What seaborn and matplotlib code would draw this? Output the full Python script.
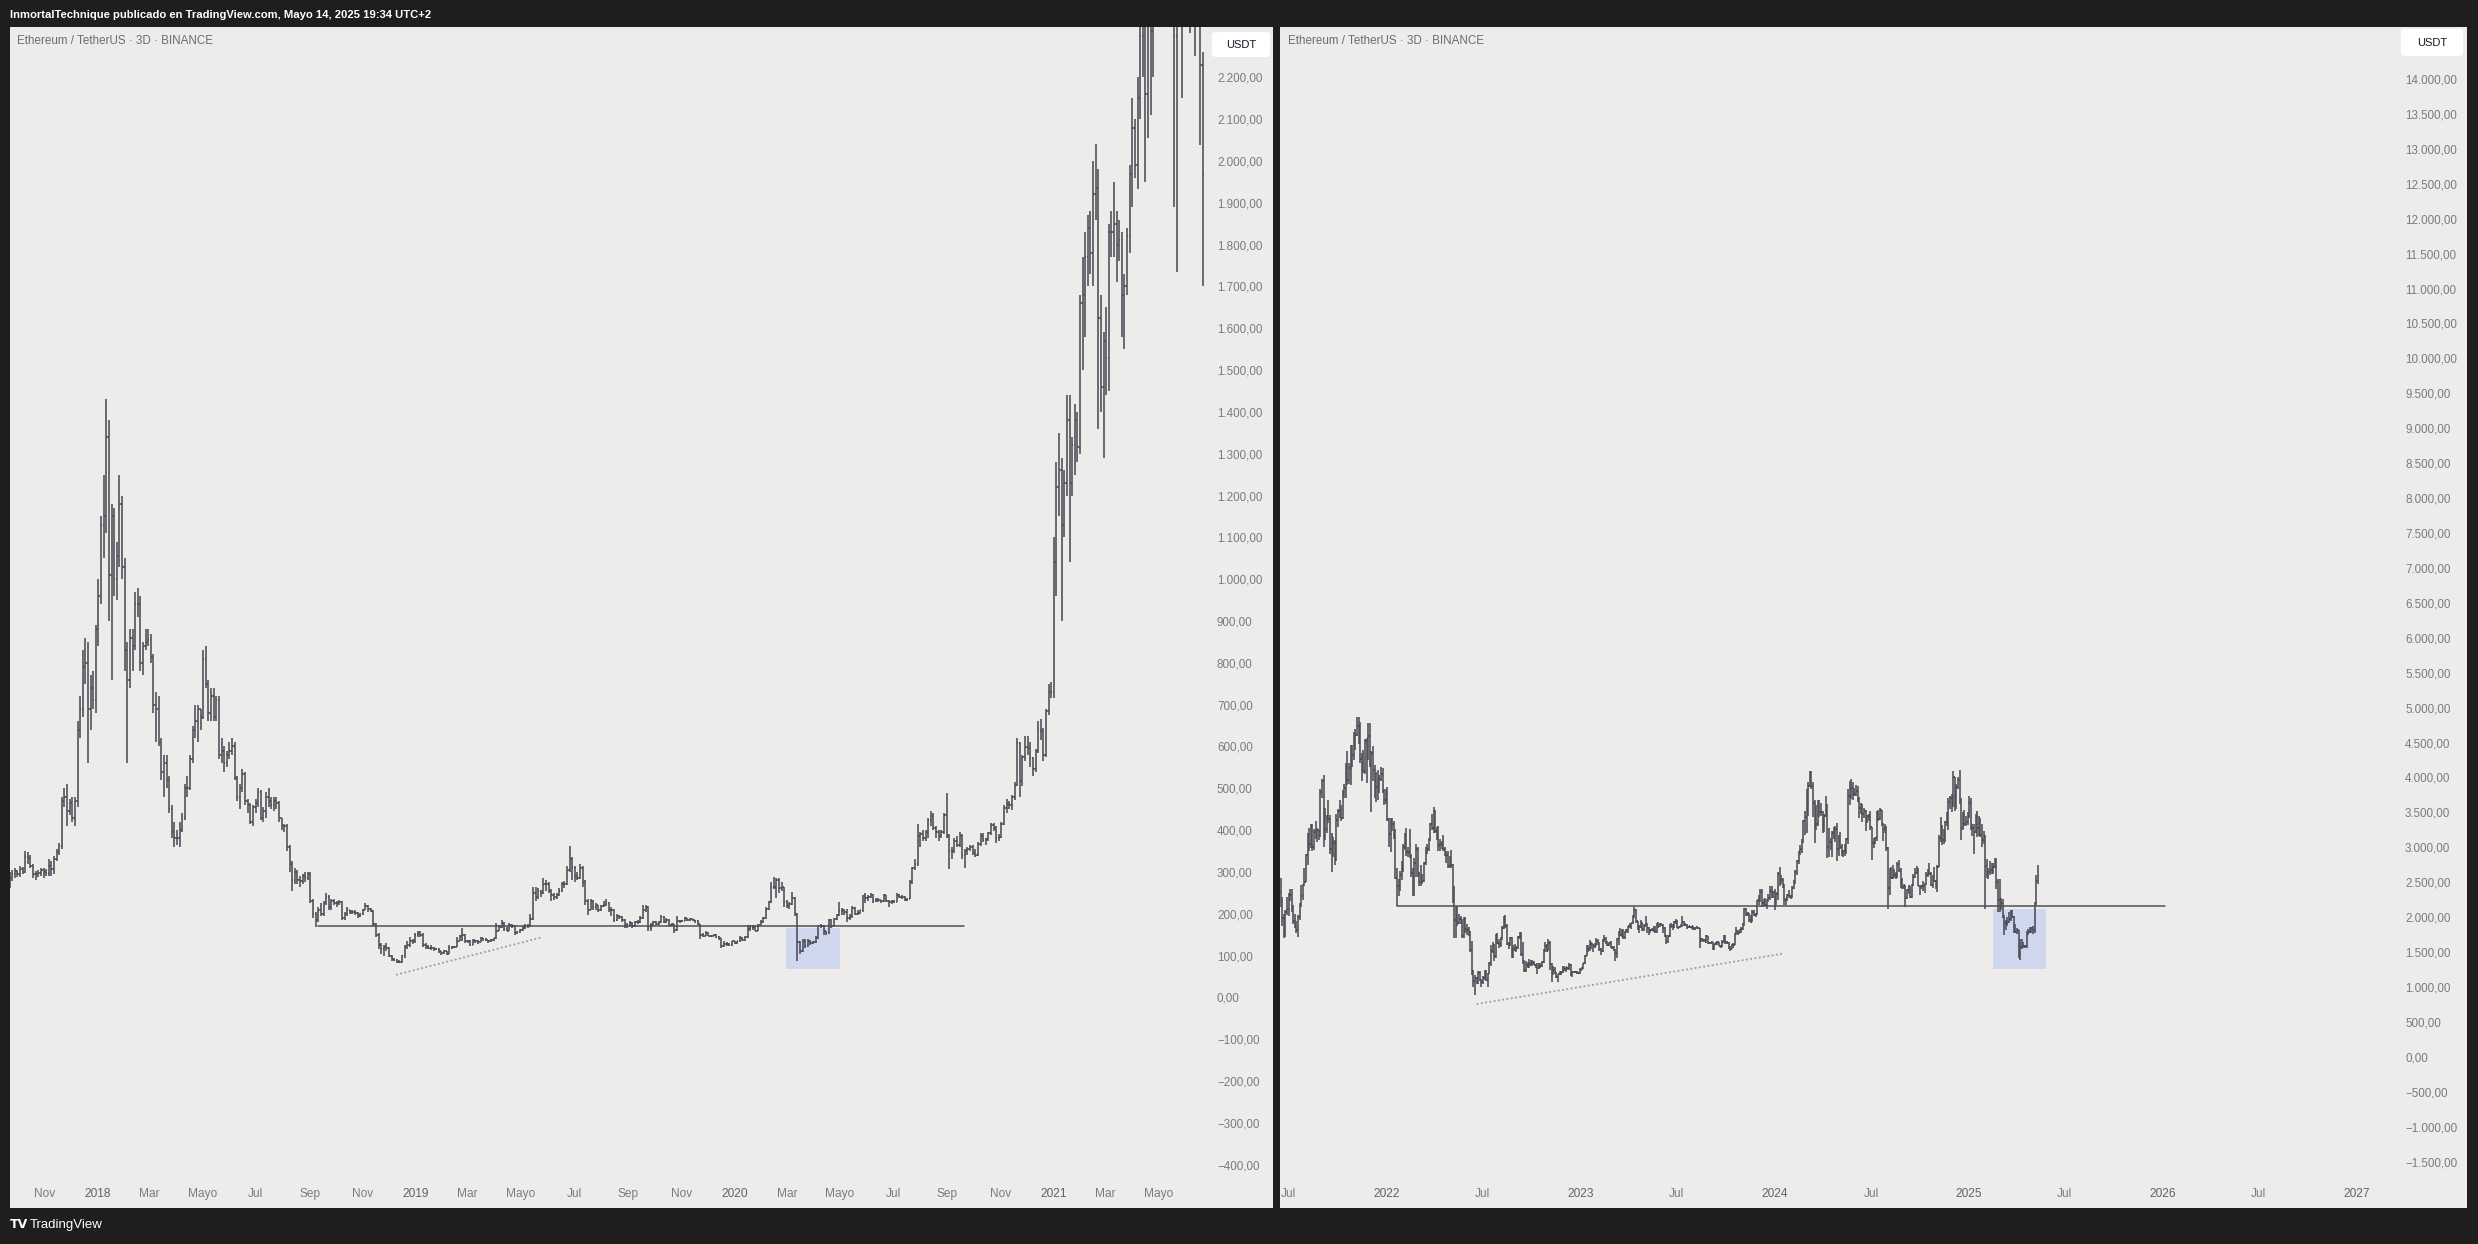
import numpy as np
import pandas as pd
import seaborn as sns
import matplotlib
matplotlib.use("Agg")
import matplotlib.pyplot as plt
import matplotlib.dates as mdates
from matplotlib.patches import Rectangle, FancyBboxPatch

# ETH/USDT 3D bars, left pane (Sep 2017 - Jun 2021)
left_start = "2017-09-22"
left_open0 = 280
left_close = [
    285, 296, 302, 295, 308, 299, 336, 334, 314, 296,
    296, 297, 305, 300, 298, 315, 306, 330, 348, 362,
    470, 480, 445, 465, 430, 470, 640, 690, 790, 800,
    690, 740, 710, 880, 960, 1130, 1150, 1340, 1010, 1150,
    1000, 1055, 1180, 1030, 830, 760, 860, 840, 940, 940,
    800, 840, 850, 855, 815, 700, 690, 610, 540, 560,
    520, 450, 395, 380, 380, 400, 430, 500, 500, 570,
    640, 660, 690, 670, 810, 750, 680, 720, 670, 710,
    580, 590, 560, 580, 590, 600, 525, 480, 500, 535,
    470, 460, 420, 455, 465, 490, 430, 445, 480, 470,
    460, 470, 465, 430, 410, 410, 360, 320, 280, 300,
    280, 278, 290, 285, 295, 230, 200, 185, 210, 200,
    225, 240, 215, 230, 225, 225, 228, 190, 200, 208,
    205, 205, 203, 195, 200, 210, 218, 212, 206, 175,
    150, 125, 115, 120, 118, 100, 92, 90, 85, 85,
    100, 120, 125, 135, 135, 150, 155, 150, 125, 120,
    118, 118, 116, 116, 110, 107, 110, 105, 118, 120,
    120, 135, 148, 150, 135, 135, 126, 137, 136, 133,
    142, 140, 137, 134, 138, 141, 160, 168, 178, 163,
    160, 173, 171, 155, 156, 161, 165, 170, 170, 188,
    250, 240, 255, 250, 270, 270, 255, 245, 240, 245,
    255, 270, 270, 305, 330, 310, 290, 285, 310, 275,
    230, 210, 230, 215, 220, 210, 218, 222, 225, 210,
    210, 185, 195, 192, 185, 170, 172, 178, 170, 180,
    180, 190, 210, 215, 165, 174, 180, 175, 180, 192,
    180, 186, 174, 176, 162, 183, 183, 183, 189, 185,
    187, 185, 183, 175, 150, 148, 155, 148, 148, 150,
    145, 141, 122, 128, 127, 125, 134, 130, 134, 143,
    137, 144, 164, 166, 169, 160, 174, 180, 189, 212,
    228, 265, 265, 280, 262, 265, 227, 218, 224, 237,
    200, 133, 110, 135, 122, 136, 131, 133, 141, 170,
    170, 158, 153, 186, 171, 187, 196, 206, 208, 205,
    190, 195, 214, 200, 202, 208, 243, 237, 241, 245,
    230, 233, 232, 230, 244, 231, 228, 230, 228, 246,
    241, 240, 233, 236, 275, 310, 318, 385, 390, 380,
    395, 425, 433, 405, 395, 385, 395, 435, 385, 350,
    350, 375, 365, 385, 340, 350, 355, 360, 346, 340,
    366, 387, 377, 378, 392, 413, 404, 382, 384, 415,
    452, 463, 460, 480, 509, 608, 518, 575, 598, 597,
    573, 545, 590, 640, 638, 580, 685, 730, 730, 1040,
    1220, 1260, 1130, 1230, 1380, 1230, 1320, 1380, 1315, 1660,
    1680, 1770, 1840, 1780, 1920, 1935, 1625, 1460, 1570, 1530,
    1830, 1830, 1850, 1800, 1810, 1680, 1700, 1820, 1970, 2080,
    1990, 2150, 2300, 2430, 2160, 2360, 2310, 2750, 2950, 3240,
    3490, 3900, 3720, 3580, 3380, 2300, 2650, 2740, 2630, 2860,
    2710, 2610, 2450, 2580, 2370, 2230, 1970,
]
left_high = [
    300, 305, 310, 305, 315, 312, 350, 348, 340, 318,
    302, 304, 310, 310, 308, 330, 325, 338, 355, 370,
    480, 500, 510, 475, 480, 480, 660, 720, 830, 860,
    850, 770, 780, 890, 1000, 1150, 1250, 1430, 1380, 1180,
    1170, 1090, 1250, 1200, 1050, 850, 880, 880, 970, 980,
    960, 850, 880, 880, 870, 820, 730, 720, 620, 580,
    580, 530, 460, 420, 400, 420, 440, 510, 530, 580,
    650, 700, 700, 690, 830, 840, 760, 740, 740, 720,
    720, 620, 600, 590, 610, 620, 610, 530, 510, 545,
    540, 475, 465, 460, 475, 500, 495, 455, 490, 500,
    480, 480, 480, 470, 430, 415, 415, 365, 325, 310,
    305, 290, 295, 300, 300, 300, 235, 205, 215, 225,
    230, 250, 245, 235, 235, 230, 232, 230, 205, 215,
    210, 210, 208, 205, 202, 212, 225, 222, 214, 208,
    178, 155, 130, 125, 130, 120, 102, 95, 92, 90,
    102, 125, 135, 145, 140, 155, 160, 160, 155, 130,
    125, 125, 120, 119, 117, 112, 113, 112, 125, 124,
    124, 145, 150, 165, 152, 138, 137, 140, 138, 137,
    145, 143, 141, 138, 140, 143, 178, 172, 185, 180,
    168, 178, 176, 172, 160, 163, 170, 175, 175, 200,
    265, 265, 262, 258, 285, 280, 275, 260, 250, 250,
    262, 275, 278, 315, 362, 335, 315, 300, 318, 315,
    280, 235, 235, 232, 225, 222, 222, 230, 235, 228,
    215, 212, 200, 198, 195, 188, 178, 182, 180, 183,
    184, 195, 222, 220, 218, 177, 182, 182, 183, 198,
    194, 190, 187, 178, 176, 195, 186, 186, 192, 190,
    190, 188, 186, 184, 176, 155, 158, 156, 150, 152,
    151, 146, 142, 134, 133, 129, 136, 135, 136, 146,
    145, 148, 172, 174, 172, 170, 176, 185, 192, 215,
    230, 275, 288, 285, 285, 275, 265, 232, 228, 252,
    240, 202, 135, 140, 140, 140, 138, 136, 148, 174,
    176, 172, 160, 188, 188, 190, 200, 227, 214, 212,
    212, 200, 218, 216, 208, 210, 245, 250, 245, 250,
    248, 237, 238, 234, 248, 245, 232, 233, 232, 250,
    248, 244, 242, 238, 280, 312, 332, 415, 395, 400,
    400, 430, 445, 440, 410, 400, 400, 440, 488, 390,
    360, 380, 385, 395, 390, 355, 360, 365, 365, 355,
    372, 392, 392, 382, 395, 418, 416, 410, 390, 420,
    460, 475, 470, 485, 515, 620, 610, 580, 625, 625,
    610, 575, 595, 660, 665, 645, 690, 750, 755, 1100,
    1280, 1350, 1290, 1260, 1440, 1440, 1340, 1420, 1400, 1680,
    1770, 1830, 1870, 1880, 2000, 2040, 1980, 1680, 1590, 1650,
    1850, 1880, 1950, 1880, 1860, 1830, 1730, 1840, 1990, 2150,
    2100, 2200, 2320, 2550, 2450, 2430, 2500, 2780, 2980, 3300,
    3600, 4200, 4380, 4150, 3620, 3440, 2700, 2900, 2760, 2900,
    2890, 2760, 2650, 2600, 2650, 2420, 2260,
]
left_low = [
    262, 278, 285, 288, 288, 295, 298, 320, 310, 285,
    280, 288, 290, 285, 290, 290, 290, 295, 325, 340,
    355, 455, 410, 435, 420, 410, 455, 620, 670, 750,
    560, 640, 690, 680, 840, 940, 1050, 1110, 900, 760,
    960, 950, 1030, 1000, 780, 560, 740, 780, 830, 910,
    780, 770, 830, 840, 800, 680, 610, 600, 520, 480,
    500, 440, 380, 360, 365, 360, 395, 425, 480, 495,
    560, 620, 610, 640, 665, 740, 660, 660, 660, 660,
    570, 560, 540, 550, 570, 580, 520, 470, 450, 490,
    460, 440, 415, 410, 440, 455, 425, 420, 430, 455,
    450, 445, 450, 420, 400, 395, 350, 300, 255, 270,
    270, 265, 270, 275, 280, 225, 190, 168, 180, 195,
    195, 220, 210, 210, 220, 215, 220, 185, 185, 195,
    200, 200, 198, 190, 193, 198, 208, 205, 204, 170,
    145, 115, 105, 100, 110, 97, 88, 86, 83, 82,
    83, 95, 115, 120, 128, 130, 145, 145, 120, 115,
    115, 114, 112, 113, 106, 102, 105, 102, 104, 116,
    118, 120, 135, 135, 130, 130, 122, 125, 131, 128,
    132, 136, 134, 130, 132, 136, 140, 158, 165, 160,
    158, 160, 166, 150, 152, 153, 158, 164, 165, 168,
    185, 230, 235, 240, 248, 255, 250, 230, 232, 235,
    243, 252, 262, 268, 300, 280, 275, 280, 283, 265,
    220, 198, 208, 210, 210, 205, 206, 215, 218, 205,
    195, 180, 183, 188, 180, 166, 167, 170, 166, 168,
    176, 178, 188, 205, 160, 158, 170, 172, 172, 178,
    178, 178, 170, 170, 155, 160, 178, 180, 182, 182,
    183, 182, 178, 172, 140, 145, 146, 146, 145, 146,
    143, 138, 117, 120, 124, 123, 124, 128, 128, 133,
    134, 136, 143, 160, 162, 158, 159, 172, 178, 188,
    210, 226, 260, 238, 250, 255, 215, 213, 212, 222,
    195, 86, 105, 108, 118, 120, 126, 128, 131, 140,
    165, 150, 150, 152, 166, 170, 185, 195, 198, 198,
    180, 185, 190, 198, 198, 199, 205, 225, 230, 238,
    225, 228, 228, 226, 228, 228, 216, 224, 225, 227,
    238, 236, 230, 231, 235, 272, 305, 315, 360, 375,
    375, 380, 410, 400, 380, 375, 380, 390, 380, 308,
    330, 345, 360, 360, 330, 310, 340, 350, 340, 335,
    338, 362, 372, 365, 375, 388, 398, 370, 373, 380,
    412, 440, 450, 448, 472, 505, 480, 505, 565, 580,
    550, 530, 540, 585, 615, 565, 575, 675, 715, 715,
    960, 1150, 900, 1100, 1200, 1040, 1200, 1250, 1280, 1300,
    1500, 1580, 1700, 1730, 1700, 1860, 1360, 1400, 1290, 1440,
    1450, 1770, 1770, 1710, 1760, 1580, 1550, 1680, 1780, 1890,
    1960, 1932, 2100, 2200, 1950, 2055, 2110, 2200, 2650, 2850,
    3150, 3450, 3600, 3500, 3100, 1890, 1735, 2380, 2150, 2530,
    2550, 2306, 2400, 2250, 2330, 2038, 1700,
]

# ETH/USDT 3D bars, right pane (Jun 2021 - May 2025)
right_start = "2021-06-16"
right_open0 = 2360
right_close = [
    2230, 1990, 1830, 2080, 2110, 2320, 2320, 2140, 1940, 1880,
    1820, 2000, 2190, 2300, 2460, 2510, 2890, 3160, 3040, 3310,
    3010, 3220, 3170, 3250, 3230, 3790, 3950, 3490, 3260, 3430,
    3400, 2970, 3150, 3060, 2850, 3390, 3520, 3560, 3420, 3790,
    3850, 4170, 3970, 4140, 4420, 4320, 4530, 4610, 4730, 4650,
    4270, 4300, 4090, 4520, 4290, 4590, 4200, 4350, 4100, 4050,
    3860, 3920, 3980, 4050, 3800, 3680, 3770, 3410, 3190, 3370,
    3330, 3160, 2560, 2440, 2420, 2600, 2690, 3010, 3120, 2930,
    2930, 2880, 2630, 2590, 2770, 2970, 2620, 2500, 2610, 2520,
    2770, 2950, 2970, 3110, 3330, 3280, 3520, 3230, 3260, 3030,
    3040, 3060, 2980, 2920, 2890, 2730, 2860, 2750, 2240, 1960,
    2140, 1910, 1980, 1970, 1730, 1990, 1830, 1810, 1790, 1530,
    1210, 1090, 1130, 1060, 1200, 1100, 1070, 1130, 1230, 1100,
    1190, 1340, 1520, 1550, 1440, 1740, 1630, 1610, 1700, 1850,
    1980, 1880, 1610, 1620, 1700, 1430, 1550, 1550, 1560, 1720,
    1710, 1470, 1340, 1250, 1310, 1340, 1330, 1360, 1350, 1320,
    1290, 1270, 1310, 1300, 1360, 1510, 1590, 1520, 1630, 1330,
    1290, 1250, 1210, 1140, 1180, 1200, 1220, 1240, 1260, 1280,
    1270, 1310, 1190, 1220, 1220, 1220, 1200, 1200, 1250, 1270,
    1340, 1450, 1580, 1550, 1630, 1610, 1580, 1590, 1660, 1620,
    1550, 1510, 1670, 1690, 1640, 1600, 1630, 1570, 1560, 1530,
    1480, 1680, 1790, 1740, 1800, 1720, 1790, 1820, 1870, 1860,
    1910, 2010, 2100, 1940, 1870, 1860, 1910, 1830, 1880, 1900,
    1840, 1800, 1820, 1810, 1850, 1800, 1910, 1870, 1900, 1880,
    1840, 1740, 1660, 1730, 1890, 1880, 1860, 1930, 1950, 1850,
    1860, 1870, 1930, 1900, 1890, 1860, 1870, 1860, 1870, 1830,
    1850, 1850, 1840, 1680, 1680, 1670, 1650, 1730, 1630, 1630,
    1640, 1550, 1610, 1630, 1640, 1590, 1580, 1650, 1730, 1650,
    1630, 1570, 1550, 1600, 1600, 1760, 1790, 1780, 1820, 1830,
    1900, 2120, 2050, 2060, 1960, 1930, 2080, 2030, 2050, 2240,
    2230, 2360, 2200, 2220, 2170, 2240, 2270, 2380, 2290, 2360,
    2240, 2330, 2620, 2480, 2530, 2470, 2240, 2270, 2320, 2300,
    2290, 2420, 2500, 2640, 2800, 2940, 2970, 3110, 3380, 3430,
    3550, 3880, 4060, 3880, 3640, 3510, 3330, 3590, 3510, 3510,
    3310, 3450, 3500, 3010, 3080, 3060, 3200, 3150, 3260, 2970,
    3110, 3010, 2910, 2940, 2940, 3120, 3740, 3730, 3850, 3760,
    3760, 3810, 3700, 3560, 3620, 3480, 3520, 3360, 3450, 3440,
    3290, 3060, 3060, 3130, 3490, 3400, 3530, 3340, 3260, 3280,
    2990, 2420, 2680, 2560, 2660, 2610, 2570, 2760, 2680, 2530,
    2430, 2450, 2270, 2390, 2440, 2290, 2460, 2580, 2630, 2680,
    2450, 2420, 2440, 2440, 2470, 2610, 2650, 2620, 2460, 2570,
    2520, 2460, 2720, 3130, 3250, 3100, 3210, 3360, 3360, 3650,
    3700, 3620, 4000, 3720, 3870, 3960, 3630, 3280, 3490, 3330,
    3360, 3450, 3640, 3330, 3270, 3220, 3470, 3280, 3330, 3180,
    3110, 3160, 2730, 2620, 2650, 2680, 2660, 2720, 2770, 2500,
    2240, 2150, 2200, 2010, 1920, 1910, 1930, 1970, 2080, 2000,
    1800, 1790, 1820, 1470, 1570, 1620, 1580, 1590, 1790, 1790,
    1800, 1840, 1810, 2200, 2520, 2610,
]
right_high = [
    2560, 2290, 2040, 2100, 2290, 2340, 2410, 2400, 2180, 2040,
    1940, 2030, 2200, 2460, 2480, 2700, 2900, 3200, 3270, 3330,
    3330, 3260, 3380, 3280, 3250, 3840, 3980, 4030, 3560, 3460,
    3680, 3460, 3200, 3150, 3100, 3470, 3550, 3670, 3600, 3820,
    3900, 4200, 4380, 4200, 4460, 4460, 4650, 4700, 4868, 4860,
    4800, 4350, 4400, 4550, 4560, 4780, 4780, 4380, 4450, 4180,
    4080, 4100, 4030, 4150, 4130, 3830, 3830, 3870, 3420, 3420,
    3420, 3370, 3260, 2700, 2540, 2660, 2800, 3050, 3200, 3280,
    3000, 3260, 2900, 2700, 2850, 3040, 3000, 2640, 2750, 2620,
    2790, 3000, 3050, 3140, 3350, 3480, 3580, 3540, 3290, 3300,
    3120, 3090, 3180, 3000, 2950, 2950, 2880, 2960, 2760, 2450,
    2150, 2150, 2050, 2020, 1980, 2000, 2000, 1900, 1860, 1800,
    1660, 1250, 1170, 1150, 1230, 1230, 1110, 1160, 1240, 1240,
    1200, 1360, 1600, 1650, 1620, 1760, 1780, 1690, 1720, 1880,
    2010, 2030, 1900, 1650, 1720, 1710, 1600, 1620, 1590, 1730,
    1790, 1790, 1650, 1380, 1370, 1360, 1400, 1380, 1380, 1370,
    1330, 1340, 1340, 1340, 1370, 1550, 1640, 1620, 1680, 1660,
    1340, 1300, 1280, 1220, 1190, 1230, 1230, 1300, 1300, 1290,
    1290, 1350, 1330, 1230, 1230, 1230, 1230, 1210, 1270, 1280,
    1350, 1460, 1600, 1600, 1670, 1650, 1620, 1630, 1700, 1680,
    1650, 1560, 1690, 1740, 1720, 1660, 1650, 1660, 1590, 1580,
    1540, 1700, 1800, 1840, 1830, 1830, 1800, 1830, 1880, 1910,
    1920, 2030, 2140, 2120, 1950, 1890, 1960, 1930, 1900, 2010,
    1920, 1860, 1830, 1840, 1870, 1870, 1920, 1930, 1910, 1900,
    1900, 1860, 1750, 1740, 1900, 1920, 1900, 1950, 1970, 1960,
    1880, 1900, 2020, 1940, 1910, 1900, 1880, 1880, 1880, 1880,
    1860, 1870, 1850, 1850, 1700, 1690, 1680, 1740, 1730, 1650,
    1650, 1650, 1620, 1650, 1660, 1650, 1600, 1670, 1750, 1750,
    1660, 1640, 1580, 1620, 1630, 1770, 1860, 1820, 1830, 1860,
    1920, 2130, 2130, 2080, 2060, 2030, 2100, 2100, 2060, 2250,
    2310, 2400, 2400, 2260, 2280, 2260, 2330, 2440, 2440, 2380,
    2400, 2360, 2640, 2720, 2600, 2560, 2480, 2280, 2330, 2390,
    2320, 2440, 2530, 2680, 2820, 2950, 3030, 3120, 3390, 3520,
    3830, 3940, 4090, 4093, 3940, 3680, 3600, 3680, 3680, 3640,
    3520, 3480, 3730, 3620, 3280, 3130, 3230, 3290, 3300, 3350,
    3170, 3220, 3050, 2960, 3050, 3140, 3840, 3950, 3980, 3930,
    3850, 3890, 3880, 3720, 3640, 3620, 3560, 3530, 3460, 3470,
    3520, 3290, 3130, 3150, 3520, 3530, 3560, 3540, 3350, 3330,
    3300, 3000, 2700, 2720, 2740, 2690, 2640, 2790, 2820, 2700,
    2560, 2480, 2460, 2400, 2460, 2450, 2470, 2620, 2700, 2730,
    2700, 2450, 2460, 2520, 2490, 2640, 2690, 2770, 2650, 2600,
    2720, 2530, 2750, 3180, 3440, 3320, 3260, 3380, 3500, 3700,
    3730, 3760, 4090, 4010, 3900, 4000, 4107, 3700, 3500, 3530,
    3450, 3500, 3740, 3700, 3330, 3330, 3480, 3520, 3450, 3420,
    3330, 3230, 3170, 2830, 2700, 2800, 2770, 2780, 2850, 2840,
    2550, 2550, 2280, 2260, 2030, 1960, 2000, 2070, 2100, 2100,
    2020, 1900, 1850, 1820, 1690, 1690, 1640, 1600, 1800, 1830,
    1860, 1860, 1870, 2210, 2600, 2740,
]
right_low = [
    2150, 1880, 1700, 1720, 2030, 2010, 2230, 2080, 1900, 1850,
    1780, 1720, 1960, 2150, 2250, 2450, 2500, 2750, 2950, 2990,
    2950, 2960, 3120, 3080, 3110, 3150, 3700, 3000, 3100, 3200,
    3350, 2900, 2650, 2860, 2740, 2800, 3290, 3420, 3370, 3400,
    3700, 3700, 3890, 3900, 3890, 4150, 4250, 4400, 4600, 4480,
    4200, 3950, 4060, 4050, 3920, 4250, 4150, 3500, 3950, 3700,
    3650, 3680, 3780, 3950, 3780, 3600, 3620, 3380, 3000, 2930,
    3240, 3120, 2540, 2160, 2300, 2380, 2530, 2650, 2960, 2880,
    2860, 2850, 2570, 2300, 2300, 2570, 2580, 2450, 2450, 2480,
    2500, 2750, 2900, 2950, 3090, 3250, 3200, 3200, 3100, 2950,
    2950, 2980, 2950, 2880, 2770, 2700, 2700, 2700, 2200, 1700,
    1700, 1880, 1900, 1900, 1700, 1700, 1780, 1740, 1730, 1500,
    1175, 1000, 880, 1040, 1040, 1080, 1000, 1040, 1100, 1080,
    1000, 1180, 1300, 1480, 1370, 1420, 1610, 1560, 1570, 1670,
    1830, 1850, 1600, 1550, 1580, 1420, 1420, 1520, 1500, 1540,
    1680, 1450, 1330, 1220, 1220, 1270, 1270, 1300, 1300, 1310,
    1270, 1190, 1260, 1270, 1290, 1340, 1500, 1500, 1510, 1250,
    1070, 1170, 1190, 1130, 1075, 1170, 1170, 1200, 1230, 1220,
    1250, 1250, 1160, 1150, 1210, 1200, 1190, 1190, 1190, 1240,
    1260, 1330, 1440, 1500, 1510, 1550, 1500, 1560, 1580, 1600,
    1520, 1460, 1500, 1640, 1620, 1580, 1580, 1560, 1550, 1520,
    1370, 1420, 1600, 1730, 1710, 1690, 1690, 1770, 1780, 1840,
    1830, 1900, 1990, 1910, 1820, 1780, 1850, 1800, 1800, 1880,
    1780, 1740, 1780, 1800, 1790, 1780, 1780, 1850, 1860, 1870,
    1780, 1720, 1620, 1630, 1710, 1850, 1820, 1840, 1900, 1840,
    1840, 1860, 1860, 1880, 1880, 1830, 1840, 1850, 1830, 1820,
    1820, 1840, 1830, 1560, 1650, 1650, 1640, 1630, 1610, 1620,
    1610, 1530, 1530, 1600, 1600, 1580, 1560, 1570, 1640, 1620,
    1610, 1550, 1520, 1540, 1560, 1600, 1740, 1750, 1770, 1780,
    1820, 1880, 2010, 2020, 1930, 1920, 1930, 2020, 2000, 2030,
    2180, 2210, 2150, 2160, 2160, 2120, 2220, 2240, 2280, 2270,
    2100, 2170, 2250, 2440, 2470, 2420, 2180, 2170, 2230, 2270,
    2260, 2270, 2400, 2480, 2600, 2760, 2890, 2920, 3060, 3180,
    3200, 3450, 3860, 3830, 3440, 3060, 3250, 3300, 3430, 3450,
    3210, 3220, 3440, 2850, 2860, 2960, 2860, 3120, 3070, 2810,
    2880, 2980, 2870, 2860, 2880, 2900, 3050, 3600, 3690, 3680,
    3740, 3740, 3650, 3420, 3470, 3360, 3420, 3240, 3350, 3380,
    3250, 2820, 2990, 3050, 3090, 3370, 3390, 3300, 3090, 3200,
    2950, 2110, 2310, 2550, 2550, 2560, 2540, 2560, 2650, 2420,
    2400, 2400, 2150, 2260, 2330, 2270, 2270, 2440, 2560, 2620,
    2440, 2310, 2410, 2380, 2350, 2460, 2580, 2600, 2440, 2420,
    2500, 2400, 2360, 2720, 3080, 3030, 3040, 3080, 3300, 3250,
    3550, 3500, 3580, 3520, 3550, 3840, 3620, 3100, 3250, 3310,
    3300, 3320, 3420, 3250, 3160, 2900, 3200, 3150, 3160, 3150,
    3000, 3050, 2120, 2560, 2550, 2600, 2620, 2620, 2700, 2400,
    2080, 2080, 2100, 1990, 1750, 1820, 1880, 1920, 1950, 1990,
    1780, 1770, 1760, 1410, 1385, 1540, 1560, 1560, 1560, 1740,
    1780, 1770, 1760, 1780, 2170, 2470,
]

# drawings (dates, prices)
left_level = (["2018-09-11", "2020-09-20"], [170, 170])
left_trend = (["2018-12-09", "2019-05-24"], [54, 143])
left_zone = (["2020-02-29", "2020-05-01"], [68, 167])
right_level = (["2022-01-22", "2026-01-06"], [2160, 2160])
right_trend = (["2022-06-20", "2024-01-16"], [756, 1476])
right_zone = (["2025-02-16", "2025-05-27"], [1261, 2116])

# axis ticks
left_ticks = ["2017-11-01", "2018-01-01", "2018-03-01", "2018-05-01", "2018-07-01",
              "2018-09-01", "2018-11-01", "2019-01-01", "2019-03-01", "2019-05-01",
              "2019-07-01", "2019-09-01", "2019-11-01", "2020-01-01", "2020-03-01",
              "2020-05-01", "2020-07-01", "2020-09-01", "2020-11-01", "2021-01-01",
              "2021-03-01", "2021-05-01"]
left_tick_labels = ["Nov", "2018", "Mar", "Mayo", "Jul", "Sep", "Nov", "2019", "Mar", "Mayo",
                    "Jul", "Sep", "Nov", "2020", "Mar", "Mayo", "Jul", "Sep", "Nov", "2021",
                    "Mar", "Mayo"]
right_ticks = ["2021-07-01", "2022-01-01", "2022-07-01", "2023-01-01", "2023-07-01",
               "2024-01-01", "2024-07-01", "2025-01-01", "2025-07-01", "2026-01-01",
               "2026-07-01", "2027-01-01"]
right_tick_labels = ["Jul", "2022", "Jul", "2023", "Jul", "2024", "Jul", "2025", "Jul", "2026",
                     "Jul", "2027"]
left_price_ticks = list(range(-400, 2201, 100))
right_price_ticks = list(range(-1500, 14001, 500))

W, H = 2478, 1244
BG = "#1e1e1e"
PANE = "#edecea"
BAR = "#4a4d56"
TXT = "#787b86"

sns.set_theme(style="white")
plt.rcParams["font.family"] = ["Liberation Sans", "DejaVu Sans"]


def frame(start, open0, close, high, low):
    n = min(len(close), len(high), len(low))
    df = pd.DataFrame({
        "date": pd.date_range(start, periods=n, freq="3D"),
        "close": close[:n], "high": high[:n], "low": low[:n],
    })
    df["open"] = [open0] + list(close[:n - 1])
    df["x"] = mdates.date2num(df["date"])
    return df


def px_axes(fig, x0, y0, x1, y1):
    # pixel box (from top-left) -> figure axes
    return fig.add_axes([x0 / W, 1 - y1 / H, (x1 - x0) / W, (y1 - y0) / H])


def price_fmt(v, pos=None):
    s = f"{abs(v):,.2f}".replace(",", "X").replace(".", ",").replace("X", ".")
    return ("\u2212" if v < 0 else "") + s


def draw_pane(ax, df, tick_days, xlim, ylim, level, trend, zone, ticks, labels, yticks, pad):
    ax.set_facecolor("none")
    dn = lambda d: mdates.date2num(pd.Timestamp(d))

    # zone box
    zx = [dn(d) for d in zone[0]]
    ax.add_patch(Rectangle((zx[0], zone[1][0]), zx[1] - zx[0], zone[1][1] - zone[1][0],
                           facecolor="#cfd7ee", edgecolor="none", zorder=1))

    # OHLC bars
    ax.vlines(df["x"], df["low"], df["high"], color=BAR, lw=1.15, zorder=3)
    ax.hlines(df["open"], df["x"] - tick_days, df["x"], color=BAR, lw=1.15, zorder=3)
    ax.hlines(df["close"], df["x"], df["x"] + tick_days, color=BAR, lw=1.15, zorder=3)

    # support level and dotted trend line
    sns.lineplot(x=[dn(d) for d in level[0]], y=level[1], ax=ax, color="#4d5058",
                 lw=1.1, zorder=2)
    sns.lineplot(x=[dn(d) for d in trend[0]], y=trend[1], ax=ax, color="#9a9ca4",
                 lw=1.3, linestyle=(0, (1, 1.4)), zorder=2)

    ax.set_xlim(dn(xlim[0]), dn(xlim[1]))
    ax.set_ylim(*ylim)
    ax.set_xticks([dn(d) for d in ticks])
    ax.set_xticklabels(labels)
    for t in ax.get_xticklabels():
        t.set_color("#5f626b" if t.get_text().isdigit() else TXT)
    ax.yaxis.tick_right()
    ax.set_yticks(yticks)
    ax.set_yticklabels([price_fmt(v) for v in yticks])
    ax.tick_params(axis="y", length=0, pad=pad, labelsize=8.4, labelcolor=TXT)
    ax.tick_params(axis="x", length=0, pad=4.5, labelsize=8.6)
    ax.set_xlabel("")
    ax.set_ylabel("")
    ax.grid(False)
    for s in ax.spines.values():
        s.set_visible(False)


fig = plt.figure(figsize=(W / 100, H / 100), dpi=100, facecolor=BG)

# pane backgrounds
for x0, x1 in [(9.5, 1273), (1280, 2467)]:
    bg = px_axes(fig, x0, 27, x1, 1208)
    bg.set_facecolor(PANE)
    bg.set_xticks([])
    bg.set_yticks([])
    for s in bg.spines.values():
        s.set_visible(False)
    bg.set_zorder(-1)

left = frame(left_start, left_open0, left_close, left_high, left_low)
right = frame(right_start, right_open0, right_close, right_high, right_low)

ax1 = px_axes(fig, 9.5, 27, 1210, 1182)
draw_pane(ax1, left, 1.4, ("2017-09-22", "2021-06-29"), (-441.4, 2320.5),
          left_level, left_trend, left_zone, left_ticks, left_tick_labels,
          left_price_ticks, 5)

ax2 = px_axes(fig, 1280, 27, 2397, 1182)
draw_pane(ax2, right, 2.3, ("2021-06-15", "2027-03-18"), (-1792, 14744),
          right_level, right_trend, right_zone, right_ticks, right_tick_labels,
          right_price_ticks, 5.8)

# texts
fig.text(10 / W, 1 - 15 / H,
         "InmortalTechnique publicado en TradingView.com, Mayo 14, 2025 19:34 UTC+2",
         color="white", fontsize=8.1, fontweight="bold", ha="left", va="center")
for x in (17, 1288):
    fig.text(x / W, 1 - 41 / H, "Ethereum / TetherUS \u00b7 3D \u00b7 BINANCE",
             color="#6a6d78", fontsize=8.4, ha="left", va="center")

# USDT boxes on the price scales
for x0, x1, y0, y1 in [(1212, 1270, 32, 57), (2401, 2463, 29, 56)]:
    box = FancyBboxPatch((x0 / W, 1 - y1 / H), (x1 - x0) / W, (y1 - y0) / H,
                         boxstyle="round,pad=0,rounding_size=0.002",
                         transform=fig.transFigure, facecolor="white",
                         edgecolor="none", zorder=5)
    fig.add_artist(box)
    fig.text((x0 + x1) / 2 / W, 1 - (y0 + y1) / 2 / H, "USDT", color="#131722",
             fontsize=8, ha="center", va="center", zorder=6)

# footer logo
fig.text(10 / W, 1 - 1225 / H, "TV", color="white", fontsize=9, fontweight="heavy",
         family="DejaVu Sans", ha="left", va="center")
fig.text(30 / W, 1 - 1225 / H, "TradingView", color="white", fontsize=9.5,
         ha="left", va="center")

fig.savefig("out.png", dpi=100, facecolor=BG)
